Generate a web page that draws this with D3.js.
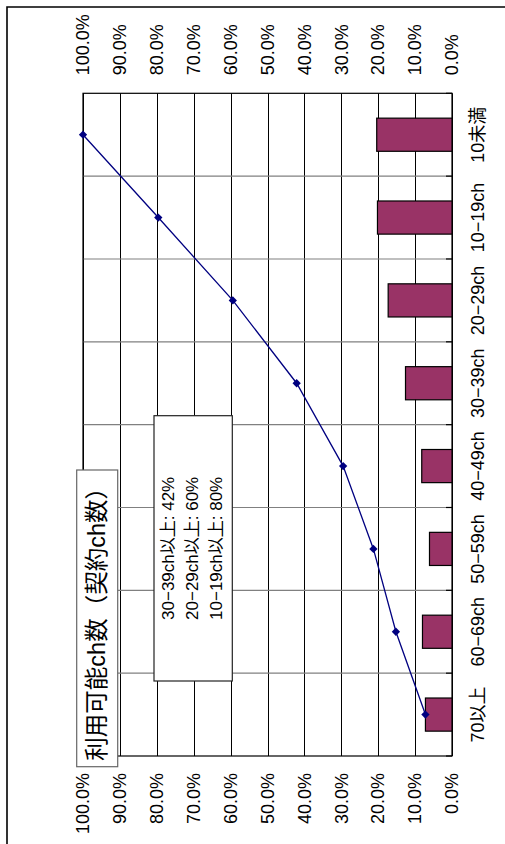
<!DOCTYPE html>
<html>
<head>
<meta charset="utf-8">
<script src="https://cdn.jsdelivr.net/npm/d3@7"></script>
<style>
  html, body { margin: 0; padding: 0; background: #fff; }
  svg { display: block; }
  text { font-family: "Liberation Sans", "Noto Sans CJK JP", sans-serif; fill: #000; }
</style>
</head>
<body>
<svg id="chart" width="505" height="844"></svg>
<script>
// Channel-count distribution: share per bucket (bars) and cumulative share (line)
const categories = ["70以上", "60−69ch", "50−59ch", "40−49ch", "30−39ch", "20−29ch", "10−19ch", "10未満"];
const shareValues = [0.072, 0.080, 0.061, 0.082, 0.126, 0.173, 0.202, 0.204];
const cumulativeValues = [0.072, 0.152, 0.213, 0.295, 0.421, 0.594, 0.796, 1.000];
const valueTicks = [0, 0.1, 0.2, 0.3, 0.4, 0.5, 0.6, 0.7, 0.8, 0.9, 1.0];
const chartTitle = "利用可能ch数（契約ch数）";
const noteLines = ["30−39ch以上: 42%", "20−29ch以上: 60%", "10−19ch以上: 80%"];

const W = 844, H = 505;           // chart frame before rotation
const plot = { left: 88, right: 750.7, top: 83, bottom: 452 };

const svg = d3.select("#chart");
// The whole chart is laid out landscape and turned a quarter turn counter-clockwise
const g = svg.append("g").attr("transform", `translate(0,${W}) rotate(-90)`);

// outer frame
g.append("path")
  .attr("d", `M-10,7 H837 V520`)
  .attr("fill", "none").attr("stroke", "#000").attr("stroke-width", 1.6);

const x = d3.scaleBand().domain(categories)
  .range([plot.left, plot.right]).paddingInner(0.6).paddingOuter(0.3);
const step = x.step();
const center = c => x(c) + x.bandwidth() / 2;
const y = d3.scaleLinear().domain([0, 1]).range([plot.bottom, plot.top]);

// value gridlines
g.append("g").selectAll("line").data(valueTicks).join("line")
  .attr("x1", plot.left).attr("x2", plot.right)
  .attr("y1", d => Math.round(y(d)) + 0.5).attr("y2", d => Math.round(y(d)) + 0.5)
  .attr("stroke", "#000").attr("stroke-width", 1);

// category dividers
const bounds = categories.slice(1).map(c => center(c) - step / 2);
g.append("g").selectAll("line").data(bounds).join("line")
  .attr("x1", d => d).attr("x2", d => d)
  .attr("y1", plot.top).attr("y2", plot.bottom)
  .attr("stroke", "#808080").attr("stroke-width", 1.2);

// category axis ticks (inside)
const allBounds = [plot.left, ...bounds, plot.right];
g.append("g").selectAll("line").data(allBounds).join("line")
  .attr("x1", d => d).attr("x2", d => d)
  .attr("y1", plot.bottom - 6).attr("y2", plot.bottom)
  .attr("stroke", "#000").attr("stroke-width", 1.2);

// plot border
g.append("rect")
  .attr("x", plot.left).attr("y", plot.top)
  .attr("width", plot.right - plot.left).attr("height", plot.bottom - plot.top)
  .attr("fill", "none").attr("stroke", "#000").attr("stroke-width", 1.2);

// bars
g.append("g").selectAll("rect").data(categories).join("rect")
  .attr("x", c => x(c)).attr("width", x.bandwidth())
  .attr("y", (c, i) => y(shareValues[i]))
  .attr("height", (c, i) => y(0) - y(shareValues[i]))
  .attr("fill", "#993366").attr("stroke", "#000").attr("stroke-width", 1.2);

// cumulative line
const line = d3.line().x((d, i) => center(categories[i])).y(d => y(d));
g.append("path").datum(cumulativeValues)
  .attr("d", line).attr("fill", "none")
  .attr("stroke", "#000080").attr("stroke-width", 1.3);
g.append("g").selectAll("path").data(cumulativeValues).join("path")
  .attr("d", d3.symbol(d3.symbolDiamond2, 44))
  .attr("transform", (d, i) => `translate(${center(categories[i])},${y(d)}) rotate(90)`)
  .attr("fill", "#000080");

// value axes on both sides
const fmt = d3.format(".1%");
const axL = g.append("g").attr("transform", `translate(${plot.left},0)`)
  .call(d3.axisLeft(y).tickValues(valueTicks).tickFormat(fmt).tickSize(0).tickPadding(17));
const axR = g.append("g").attr("transform", `translate(${plot.right},0)`)
  .call(d3.axisRight(y).tickValues(valueTicks).tickFormat(fmt).tickSize(0).tickPadding(18));
[axL, axR].forEach(a => {
  a.select(".domain").remove();
  a.selectAll("text").attr("font-size", 18).attr("font-family", null).attr("fill", "#000");
});

// category labels
g.append("g").selectAll("text").data(categories).join("text")
  .attr("x", c => center(c)).attr("y", 478)
  .attr("text-anchor", "middle").attr("dominant-baseline", "central")
  .attr("font-size", 18).text(c => c);

// title box
const tb = { x0: 77.3, x1: 374, y0: 76.7, y1: 117.7 };
g.append("rect")
  .attr("x", tb.x0).attr("y", tb.y0).attr("width", tb.x1 - tb.x0).attr("height", tb.y1 - tb.y0)
  .attr("fill", "#fff").attr("stroke", "#666").attr("stroke-width", 1.2);
g.append("text")
  .attr("x", (tb.x0 + tb.x1) / 2).attr("y", (tb.y0 + tb.y1) / 2)
  .attr("text-anchor", "middle").attr("dominant-baseline", "central")
  .attr("font-size", 23.5).text(chartTitle);

// note box
const nb = { x0: 163, x1: 428.3, y0: 154, y1: 232.3 };
g.append("rect")
  .attr("x", nb.x0).attr("y", nb.y0).attr("width", nb.x1 - nb.x0).attr("height", nb.y1 - nb.y0)
  .attr("fill", "#fff").attr("stroke", "#222").attr("stroke-width", 1.2);
g.append("g").selectAll("text").data(noteLines).join("text")
  .attr("x", (nb.x0 + nb.x1) / 2).attr("y", (d, i) => 168 + i * 24)
  .attr("text-anchor", "middle").attr("dominant-baseline", "central")
  .attr("font-size", 17).text(d => d);
</script>
</body>
</html>
